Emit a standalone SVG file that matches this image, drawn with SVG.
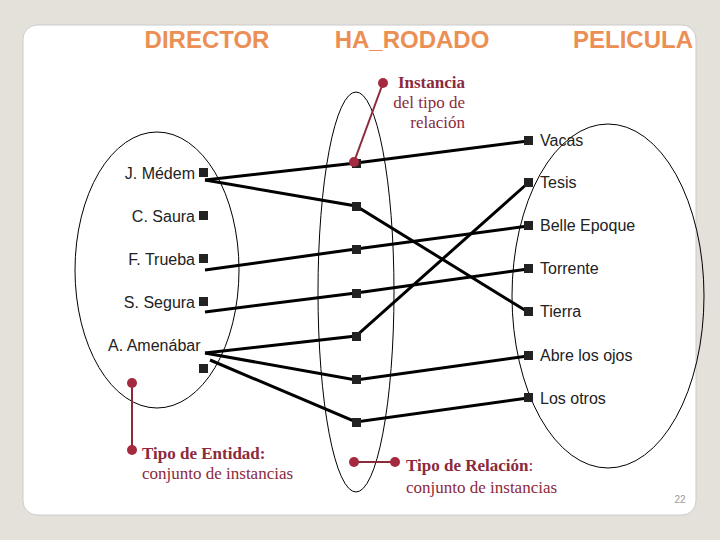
<svg xmlns="http://www.w3.org/2000/svg" width="720" height="540" viewBox="0 0 720 540">
<style>
.h{font-family:"Liberation Sans",Arial,sans-serif;font-size:24px;font-weight:bold;fill:#EB8F55}
.t{font-family:"Liberation Sans",Arial,sans-serif;font-size:16px;fill:#222}
.r{font-family:"Liberation Serif","Times New Roman",serif;font-size:17px;fill:#8B2A3C}
.e{fill:none;stroke:#000;stroke-width:1}
.c{stroke:#000;stroke-width:3;fill:none}
.a{stroke:#8B2A3C;stroke-width:2}
.dot{fill:#A52A3F}
.sq{fill:#222}
</style>
<rect width="720" height="540" fill="#E4E0DA"/>
<rect x="23" y="25" width="673" height="490" rx="14" fill="#fff" stroke="#ccc"/>
<text class="h" x="207" y="48" text-anchor="middle">DIRECTOR</text>
<text class="h" x="412" y="48" text-anchor="middle">HA_RODADO</text>
<text class="h" x="633" y="48" text-anchor="middle">PELICULA</text>
<ellipse class="e" cx="157" cy="270" rx="82" ry="138"/>
<ellipse class="e" cx="356" cy="292" rx="38" ry="200"/>
<ellipse class="e" cx="608" cy="296" rx="96" ry="172"/>
<g id="connectors">
<polyline class="c" points="205,180 356,163 528,141" stroke-width="5"/>
<polyline class="c" points="205,180 356,206 528,312"/>
<polyline class="c" points="205,270 356,249 528,226"/>
<polyline class="c" points="205,312 356,293 528,269"/>
<polyline class="c" points="205,353 356,336 528,183"/>
<polyline class="c" points="205,353 356,380 528,356"/>
<polyline class="c" points="210,360 356,422 528,398"/>
</g>
<g id="director">
<text class="t" x="195" y="179" text-anchor="end">J. Médem</text><rect class="sq" x="199" y="168" width="9" height="9"/>
<text class="t" x="195" y="222" text-anchor="end">C. Saura</text><rect class="sq" x="199" y="211" width="9" height="9"/>
<text class="t" x="195" y="265" text-anchor="end">F. Trueba</text><rect class="sq" x="199" y="254" width="9" height="9"/>
<text class="t" x="195" y="308" text-anchor="end">S. Segura</text><rect class="sq" x="199" y="297" width="9" height="9"/>
<text class="t" x="108" y="351">A. Amenábar</text><rect class="sq" x="199" y="364" width="9" height="9"/>
</g>
<g id="ha_rodado">
<rect class="sq" x="352" y="159" width="9" height="9"/>
<rect class="sq" x="352" y="202" width="9" height="9"/>
<rect class="sq" x="352" y="245" width="9" height="9"/>
<rect class="sq" x="352" y="289" width="9" height="9"/>
<rect class="sq" x="352" y="332" width="9" height="9"/>
<rect class="sq" x="352" y="375" width="9" height="9"/>
<rect class="sq" x="352" y="418" width="9" height="9"/>
</g>
<g id="pelicula">
<rect class="sq" x="524" y="136" width="9" height="9"/><text class="t" x="540" y="146">Vacas</text>
<rect class="sq" x="524" y="178" width="9" height="9"/><text class="t" x="540" y="188">Tesis</text>
<rect class="sq" x="524" y="221" width="9" height="9"/><text class="t" x="540" y="231">Belle Epoque</text>
<rect class="sq" x="524" y="264" width="9" height="9"/><text class="t" x="540" y="274">Torrente</text>
<rect class="sq" x="524" y="307" width="9" height="9"/><text class="t" x="540" y="317">Tierra</text>
<rect class="sq" x="524" y="351" width="9" height="9"/><text class="t" x="540" y="361">Abre los ojos</text>
<rect class="sq" x="524" y="393" width="9" height="9"/><text class="t" x="540" y="404">Los otros</text>
</g>
<g id="ann-instancia">
<line class="a" x1="383" y1="83" x2="354" y2="162"/>
<circle class="dot" cx="383" cy="83" r="5"/><circle class="dot" cx="354" cy="162" r="5"/>
<text class="r" x="465" y="88" text-anchor="end" font-weight="bold">Instancia</text>
<text class="r" x="465" y="108" text-anchor="end">del tipo de</text>
<text class="r" x="465" y="128" text-anchor="end">relación</text>
</g>
<g id="ann-entidad">
<line class="a" x1="132" y1="383" x2="132" y2="450"/>
<circle class="dot" cx="132" cy="383" r="5"/><circle class="dot" cx="132" cy="450" r="5"/>
<text class="r" x="142" y="459" font-weight="bold">Tipo de Entidad:</text>
<text class="r" x="142" y="479">conjunto de instancias</text>
</g>
<g id="ann-relacion">
<line class="a" x1="354" y1="462" x2="395" y2="462"/>
<circle class="dot" cx="354" cy="462" r="5"/><circle class="dot" cx="395" cy="462" r="5"/>
<text class="r" x="406" y="471"><tspan font-weight="bold">Tipo de Relación</tspan>:</text>
<text class="r" x="406" y="493">conjunto de instancias</text>
</g>
<text x="680" y="503" font-family="Liberation Sans,sans-serif" font-size="10" fill="#999" text-anchor="middle">22</text>
</svg>
